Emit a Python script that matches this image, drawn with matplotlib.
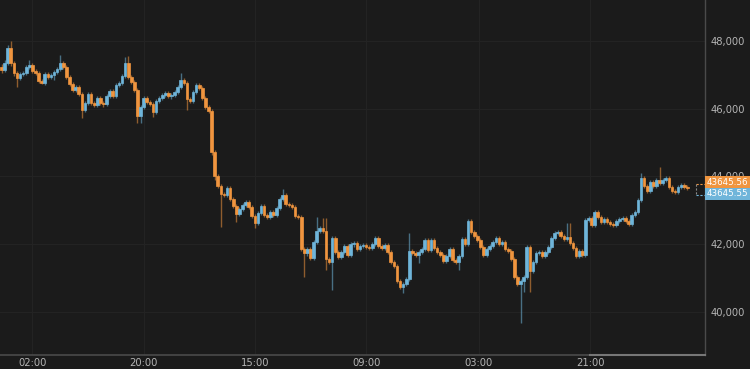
import matplotlib
matplotlib.use("Agg")
import matplotlib.pyplot as plt
import numpy as np

# 30-minute candles
first_open = 47230
closes = [47140, 47350, 47790, 47350, 47060, 46910, 47030, 47060, 47230, 47290,
          47110, 47060, 46820, 46760, 47030, 46940, 47000, 47080, 47170, 47350,
          47230, 46940, 46730, 46550, 46640, 46440, 45960, 46170, 46440, 46170,
          46110, 46320, 46170, 46140, 46380, 46520, 46380, 46700, 46760, 46970,
          47350, 46940, 46790, 46550, 45790, 46050, 46320, 46200, 46140, 45900,
          46230, 46320, 46410, 46460, 46380, 46410, 46490, 46640, 46850, 46760,
          46290, 46230, 46490, 46700, 46610, 46320, 46050, 45930, 44720, 44010,
          43720, 43480, 43450, 43660, 43340, 43130, 42890, 43040, 43160, 43250,
          43100, 42830, 42630, 42920, 43130, 42860, 42800, 42950, 42860, 43070,
          43340, 43450, 43190, 43160, 43100, 42830, 42800, 41860, 41740, 41860,
          41590, 42070, 42390, 42480, 42390, 41560, 41480, 42180, 41770, 41620,
          41770, 41950, 41680, 42010, 42040, 41860, 41950, 41980, 41920, 41890,
          42010, 42180, 41950, 41890, 41980, 41770, 41480, 41360, 40910, 40740,
          40830, 40970, 41800, 41740, 41680, 41770, 41860, 42130, 41830, 42130,
          41890, 41770, 41680, 41500, 41650, 41860, 41530, 41480, 41650, 42160,
          42010, 42690, 42360, 42240, 42130, 41920, 41680, 41860, 41950, 42070,
          42180, 42010, 42070, 41860, 41800, 41560, 41030, 40830, 40910, 41030,
          41920, 41210, 41480, 41740, 41770, 41650, 41770, 41920, 42180, 42330,
          42360, 42240, 42160, 42210, 42040, 41890, 41650, 41800, 41680, 42720,
          42770, 42570, 42950, 42800, 42660, 42750, 42660, 42600, 42570, 42690,
          42750, 42770, 42690, 42600, 42860, 42950, 43310, 43960, 43720, 43570,
          43840, 43720, 43900, 43810, 43900, 43960, 43690, 43570, 43540, 43690,
          43750, 43690, 43645.56]
highs = [47320, 47440, 47880, 48000, 47410, 47110, 47080, 47110, 47290, 47440,
         47350, 47170, 47110, 46880, 47080, 47080, 47060, 47140, 47230, 47590,
         47410, 47290, 47000, 46790, 46700, 46700, 46490, 46230, 46490, 46490,
         46230, 46380, 46380, 46230, 46440, 46580, 46580, 46760, 46820, 47030,
         47530, 47560, 47000, 46850, 46610, 46110, 46380, 46380, 46260, 46200,
         46290, 46380, 46460, 46520, 46520, 46460, 46550, 46700, 47060, 46910,
         46820, 46350, 46550, 46760, 46760, 46670, 46380, 46110, 45990, 44780,
         44070, 43780, 43540, 43720, 43720, 43390, 43190, 43100, 43220, 43310,
         43310, 43160, 42890, 42980, 43190, 43190, 42920, 43010, 43010, 43130,
         43390, 43630, 43510, 43250, 43220, 43160, 42890, 42860, 41920, 41920,
         41920, 42130, 42800, 42540, 42770, 42770, 41620, 42240, 42240, 41830,
         41830, 42010, 42010, 42070, 42100, 42100, 42010, 42040, 42040, 41980,
         42070, 42240, 42240, 42010, 42040, 42040, 41830, 41530, 41420, 40970,
         40890, 41030, 42330, 41860, 41800, 41830, 41920, 42180, 42180, 42180,
         42180, 41950, 41830, 41740, 41710, 41920, 41920, 41590, 41710, 42210,
         42210, 42750, 42750, 42420, 42300, 42180, 41980, 41920, 42010, 42130,
         42240, 42240, 42130, 42130, 41920, 41860, 41620, 41090, 40970, 41090,
         41980, 41980, 41530, 41800, 41830, 41830, 41830, 41980, 42240, 42390,
         42420, 42420, 42300, 42630, 42630, 42100, 41950, 41860, 41860, 42770,
         42830, 42830, 43010, 43010, 42860, 42800, 42800, 42720, 42660, 42750,
         42800, 42830, 42830, 42750, 42920, 43010, 43360, 44100, 44010, 43780,
         43900, 43900, 43960, 44280, 43960, 44010, 44010, 43750, 43630, 43750,
         43810, 43810, 43750]
lows = [47060, 47080, 47290, 47260, 46970, 46640, 46850, 46970, 47000, 47170,
        47060, 47000, 46760, 46730, 46700, 46880, 46880, 46850, 47030, 47110,
        47170, 46880, 46670, 46490, 46490, 46380, 45730, 45900, 46110, 46110,
        46050, 46050, 46110, 46050, 46080, 46320, 46320, 46320, 46640, 46700,
        46910, 46880, 46730, 46490, 45580, 45580, 45990, 46140, 46080, 45760,
        45840, 46170, 46260, 46350, 46320, 46290, 46350, 46440, 46580, 46700,
        45960, 46170, 46170, 46440, 46550, 46260, 45990, 45870, 44630, 43900,
        43660, 42510, 43390, 43390, 43280, 43070, 42660, 42830, 42980, 43100,
        43040, 42770, 42480, 42570, 42860, 42800, 42750, 42750, 42800, 42800,
        43010, 43280, 43130, 43100, 43040, 42770, 42750, 41800, 41030, 41650,
        41530, 41530, 42010, 42330, 42330, 41240, 41420, 40650, 41710, 41560,
        41560, 41710, 41620, 41620, 41920, 41800, 41800, 41890, 41860, 41830,
        41830, 41950, 41890, 41830, 41830, 41710, 41420, 41300, 40860, 40680,
        40560, 40770, 40910, 41680, 41620, 41450, 41710, 41800, 41770, 41770,
        41830, 41710, 41620, 41450, 41450, 41590, 41480, 41420, 41240, 41590,
        41950, 41950, 42300, 42180, 42070, 41860, 41620, 41620, 41800, 41890,
        42010, 41950, 41950, 41800, 41740, 41500, 40970, 40770, 39680, 40590,
        40970, 40590, 41150, 41420, 41680, 41590, 41590, 41710, 41860, 42130,
        42270, 42180, 42100, 42100, 41980, 41830, 41590, 41590, 41620, 41620,
        42660, 42510, 42510, 42750, 42600, 42600, 42600, 42540, 42510, 42510,
        42630, 42690, 42630, 42540, 42540, 42800, 42890, 43250, 43660, 43510,
        43510, 43660, 43660, 43750, 43750, 43840, 43630, 43510, 43480, 43480,
        43630, 43630, 43600]

time_tick_pos = [10, 46, 82, 118, 154.5, 190.5]
time_tick_labels = ["02:00", "20:00", "15:00", "09:00", "03:00", "21:00"]
price_ticks = [40000, 42000, 44000, 46000, 48000]
ask_label = "43645.56"
bid_label = "43645.55"

BG = "#1b1b1b"
UP = "#6fb5da"
DOWN = "#f0953f"
TXT = "#b4b4b4"

opens = [first_open] + closes[:-1]
o = np.array(opens)
c = np.array(closes)
h = np.array(highs)
lo = np.array(lows)
idx = np.arange(len(c))
up = c >= o
cols = np.where(up, UP, DOWN)

fig = plt.figure(figsize=(7.5, 3.69), dpi=100, facecolor=BG)
ax = fig.add_axes([0, 14/369, 705/750, 355/369], facecolor=BG)

# faint grid
for p in price_ticks:
    ax.axhline(p, color="#232323", lw=0.8, zorder=0)
for t in time_tick_pos:
    ax.axvline(t, color="#232323", lw=0.8, zorder=0)

# wicks then bodies
ax.vlines(idx, lo, h, colors=cols, lw=1.0, alpha=0.55, zorder=2)
bot = np.minimum(o, c)
hgt = np.maximum(np.abs(c - o), 20)
ax.bar(idx, hgt, bottom=bot, width=0.85, color=cols, edgecolor=cols,
       linewidth=0.5, zorder=3)

ax.set_xlim(-0.5, 227.7)
ax.set_ylim(38730, 49210)

ax.set_xticks(time_tick_pos)
ax.set_xticklabels(time_tick_labels)
ax.yaxis.tick_right()
ax.set_yticks(price_ticks)
ax.set_yticklabels(["{:,}".format(p) for p in price_ticks])
ax.tick_params(axis="both", length=0, colors=TXT, labelsize=7.2)
ax.tick_params(axis="y", pad=4)
ax.tick_params(axis="x", pad=2)
for lab in ax.get_yticklabels():
    lab.set_horizontalalignment("left")

for s in ["top", "left"]:
    ax.spines[s].set_visible(False)
ax.spines["bottom"].set_color("#4a4a4a")
ax.spines["right"].set_color("#4a4a4a")
ax.spines["bottom"].set_linewidth(1.2)
ax.spines["right"].set_linewidth(1.0)
ax.plot([190.5, 227.7], [38730, 38730], color="#777777", lw=1.5,
        clip_on=False, zorder=5)

# last price bracket and labels
last = closes[-1]
ax.plot([224.7, 227.7], [last + 120, last + 120], color=DOWN, lw=0.8,
        ls=(0, (2, 1.5)), clip_on=False)
ax.plot([224.7, 224.7], [last + 120, last - 200], color="#888888", lw=0.8,
        ls=(0, (2, 1.5)), clip_on=False)
ax.plot([224.7, 227.7], [last - 200, last - 200], color=UP, lw=0.8,
        ls=(0, (2, 1.5)), clip_on=False)
fig.text(707/750, 1 - 182.5/369, ask_label, color="white", fontsize=6.3,
         va="center", ha="left",
         bbox=dict(boxstyle="square,pad=0.18", fc=DOWN, ec="none"), zorder=10)
fig.text(707/750, 1 - 194/369, bid_label, color="white", fontsize=6.3,
         va="center", ha="left",
         bbox=dict(boxstyle="square,pad=0.18", fc=UP, ec="none"), zorder=10)

fig.savefig("out.png", dpi=100, facecolor=BG)
